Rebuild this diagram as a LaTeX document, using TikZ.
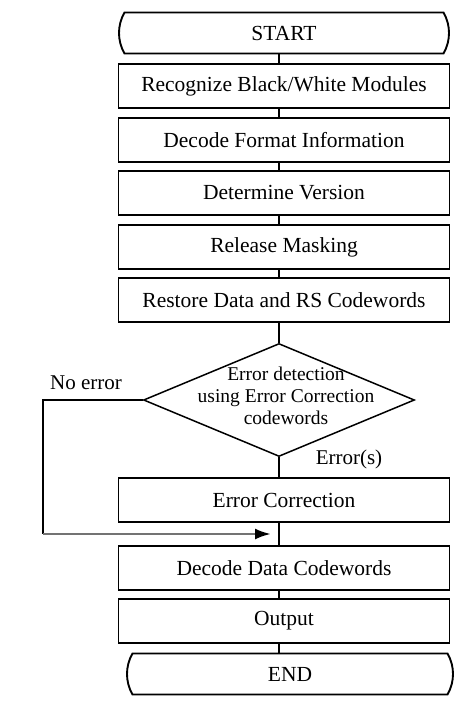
\documentclass[tikz,border=0pt]{standalone}
\usepackage{fontspec}
\setmainfont{Liberation Serif}
\usetikzlibrary{shapes.geometric,shapes.misc,arrows.meta}
\tikzset{
  stepbox/.style={draw, line width=1.9pt, minimum width=331pt, minimum height=44pt, inner sep=0pt,
    font=\fontsize{21.5}{25}\selectfont},
  term/.style={draw, line width=1.9pt, rounded rectangle, rounded rectangle arc length=60,
    minimum width=330pt, minimum height=41pt, inner sep=0pt, font=\fontsize{21.5}{25}\selectfont},
  conn/.style={line width=2pt},
  lbl/.style={font=\fontsize{21}{25}\selectfont, inner sep=0pt}
}
\begin{document}
\begin{tikzpicture}[x=1pt,y=-1pt]
\useasboundingbox (0,0) rectangle (474,703);
\node[term] (start) at (284,33) {START};
\node[stepbox] (b1) at (284,86) {Recognize Black/White Modules};
\node[stepbox] (b2) at (284,140) {Decode Format Information};
\node[stepbox] (b3) at (284,193) {Determine Version};
\node[stepbox] (b4) at (284,247) {Release Masking};
\node[stepbox] (b5) at (284,300) {Restore Data and RS Codewords};
\node[draw, diamond, line width=1.5pt, minimum width=271pt, minimum height=113pt, inner sep=0pt] (dia) at (279,400) {};
\node[align=center, inner sep=0pt, font=\fontsize{19.5}{22}\selectfont] (diat) at (286,396) {Error detection\\using Error Correction\\codewords};
\node[stepbox] (b6) at (284,500) {Error Correction};
\node[stepbox] (b7) at (284,568) {Decode Data Codewords};
\node[stepbox] (b8) at (284,621) {Output};
\node[term, minimum width=326pt] (end) at (290,674) {END};
\node[lbl] (noerr) at (86,383) {No error};
\node[lbl] (errs) at (349,459) {Error(s)};
\coordinate (corner) at (43,400);
\coordinate (corner2) at (43,534);
\coordinate (join) at (279,534);
\draw[conn] ([xshift=-5pt]start.south) -- ([xshift=-5pt]b1.north);
\draw[conn] ([xshift=-5pt]b1.south) -- ([xshift=-5pt]b2.north);
\draw[conn] ([xshift=-5pt]b2.south) -- ([xshift=-5pt]b3.north);
\draw[conn] ([xshift=-5pt]b3.south) -- ([xshift=-5pt]b4.north);
\draw[conn] ([xshift=-5pt]b4.south) -- ([xshift=-5pt]b5.north);
\draw[conn] ([xshift=-5pt]b5.south) -- (dia.north);
\draw[conn] (dia.south) -- ([xshift=-5pt]b6.north);
\draw[conn] ([xshift=-5pt]b6.south) -- ([xshift=-5pt]b7.north);
\draw[conn] ([xshift=-5pt]b7.south) -- ([xshift=-5pt]b8.north);
\draw[conn] ([xshift=-5pt]b8.south) -- ([xshift=-11pt]end.north);
\draw[conn] (dia.west) -- (corner) -- (corner2);
\draw[line width=2.6pt, black!55, -{Latex[length=16pt,width=11pt,fill=black,color=black]}, shorten >=8pt] (corner2) -- (join);
\end{tikzpicture}
\end{document}
